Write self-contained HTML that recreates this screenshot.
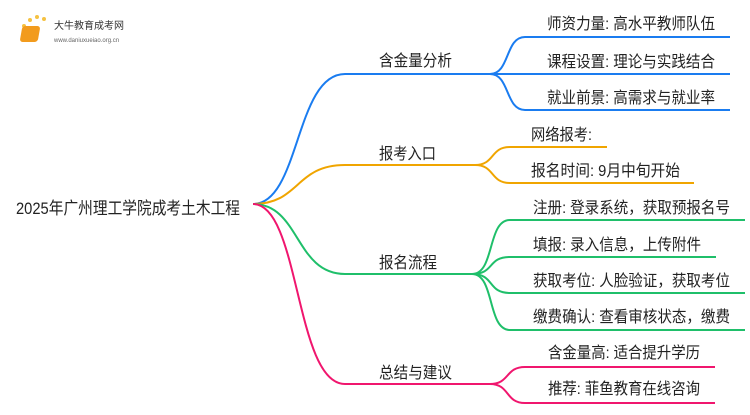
<!DOCTYPE html>
<html><head><meta charset="utf-8"><style>
html,body{margin:0;padding:0;background:#fff;}
svg text{font-family:"Liberation Sans","Noto Sans CJK SC",sans-serif;fill:#222;}
</style></head><body>
<svg width="750" height="410" viewBox="0 0 750 410" xmlns="http://www.w3.org/2000/svg">
<g fill="none" stroke-width="2">
<g stroke="#1a7cf0">
<path d="M253,204 C300,204 295,74 345,74 L490,74"/>
<path d="M490,74 C510,74 505,37 525,37 L730,37"/>
<path d="M490,74 L730,74"/>
<path d="M490,74 C510,74 505,110 525,110 L730,110"/>
</g>
<g stroke="#f0a500">
<path d="M253,204 C300,204 295,165 345,165 L475,165"/>
<path d="M475,165 C495,165 490,147 510,147 L607,147"/>
<path d="M475,165 C495,165 490,183 510,183 L694,183"/>
</g>
<g stroke="#1fbf6a">
<path d="M253,204 C300,204 295,274 345,274 L472,274"/>
<path d="M472,274 C495,274 487,220 510,220 L745,220"/>
<path d="M472,274 C495,274 487,257 510,257 L716,257"/>
<path d="M472,274 C495,274 487,293 510,293 L745,293"/>
<path d="M472,274 C495,274 487,330 510,330 L745,330"/>
</g>
<g stroke="#f0166e">
<path d="M253,204 C300,204 295,384 345,384 L490,384"/>
<path d="M490,384 C510,384 505,367 525,367 L715,367"/>
<path d="M490,384 C510,384 505,403 525,403 L715,403"/>
</g>
</g>
<g font-size="16">
<text x="16" y="214" font-size="17" textLength="224" lengthAdjust="spacingAndGlyphs">2025年广州理工学院成考土木工程</text>
<text x="379" y="66" textLength="73" lengthAdjust="spacingAndGlyphs">含金量分析</text>
<text x="379" y="159" textLength="57" lengthAdjust="spacingAndGlyphs">报考入口</text>
<text x="379" y="268" textLength="58" lengthAdjust="spacingAndGlyphs">报名流程</text>
<text x="379" y="378" textLength="73" lengthAdjust="spacingAndGlyphs">总结与建议</text>
<text x="547" y="29" textLength="168" lengthAdjust="spacingAndGlyphs">师资力量: 高水平教师队伍</text>
<text x="547" y="67" textLength="168" lengthAdjust="spacingAndGlyphs">课程设置: 理论与实践结合</text>
<text x="547" y="103" textLength="168" lengthAdjust="spacingAndGlyphs">就业前景: 高需求与就业率</text>
<text x="531" y="140" textLength="61" lengthAdjust="spacingAndGlyphs">网络报考:</text>
<text x="531" y="176" textLength="149" lengthAdjust="spacingAndGlyphs">报名时间: 9月中旬开始</text>
<text x="533" y="213" textLength="197" lengthAdjust="spacingAndGlyphs">注册: 登录系统，获取预报名号</text>
<text x="533" y="250" textLength="168" lengthAdjust="spacingAndGlyphs">填报: 录入信息，上传附件</text>
<text x="533" y="286" textLength="197" lengthAdjust="spacingAndGlyphs">获取考位: 人脸验证，获取考位</text>
<text x="533" y="322" textLength="197" lengthAdjust="spacingAndGlyphs">缴费确认: 查看审核状态，缴费</text>
<text x="548" y="358" textLength="152" lengthAdjust="spacingAndGlyphs">含金量高: 适合提升学历</text>
<text x="548" y="394" textLength="152" lengthAdjust="spacingAndGlyphs">推荐: 菲鱼教育在线咨询</text>
</g>
<g>
<circle cx="24" cy="26" r="2" fill="#f5c242"/><circle cx="30" cy="20" r="2" fill="#f5c242"/><circle cx="37" cy="17" r="2" fill="#f5c242"/><circle cx="44" cy="19" r="2" fill="#f5c242"/>
<rect x="27" y="26" width="18" height="16" rx="3" fill="#f29b1d" transform="skewX(-10)"/>
<text x="54" y="29" font-size="10" style="fill:#333">大牛教育成考网</text>
<text x="54" y="42" font-size="6" style="fill:#666">www.daniuxueiao.org.cn</text>
</g>
</svg>
</body></html>
